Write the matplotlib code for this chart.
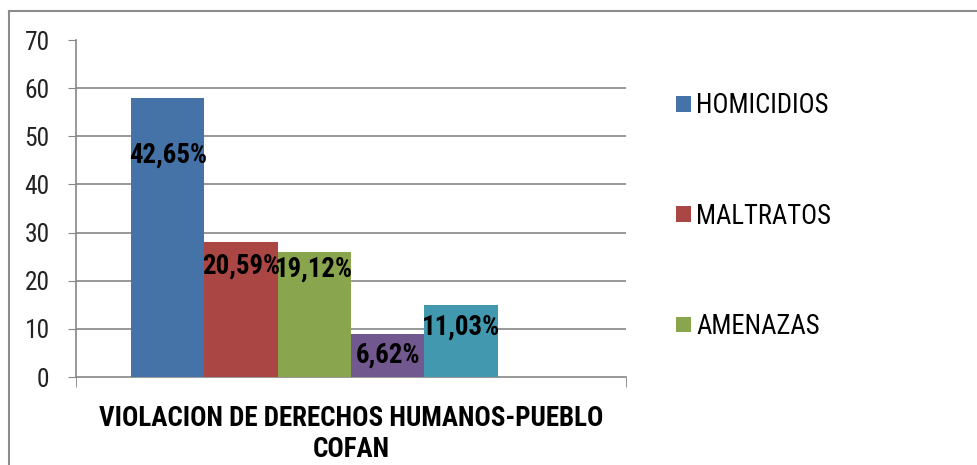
import matplotlib
matplotlib.use('Agg')
import matplotlib.pyplot as plt
from matplotlib import font_manager
from matplotlib.font_manager import FontProperties
from matplotlib.lines import Line2D

# data
category = 'VIOLACION DE DERECHOS HUMANOS-PUEBLO\nCOFAN'
series = ['HOMICIDIOS', 'MALTRATOS', 'AMENAZAS', '', '']
values = [58, 28, 26, 9, 15]
pct_labels = ['42,65%', '20,59%', '19,12%', '6,62%', '11,03%']
label_y = [46.1, 23.0, 22.5, 4.6, 10.4]
colors = ['#4572A7', '#AA4643', '#89A54E', '#71588F', '#4198AF']
yticks = [0, 10, 20, 30, 40, 50, 60, 70]


def pick_font():
    # the original is Calibri, so look for something narrow
    cands = [('Liberation Sans Narrow', 'normal'), ('Roboto Condensed', 'normal'),
             ('Open Sans Condensed', 'normal'), ('Noto Sans', 'condensed'),
             ('Open Sans', 'condensed'), ('DejaVu Sans', 'condensed')]
    by_path = {f.fname: f for f in font_manager.fontManager.ttflist}
    for name, st in cands:
        try:
            path = font_manager.findfont(FontProperties(family=name, stretch=st),
                                         fallback_to_default=False)
        except Exception:
            continue
        f = by_path.get(path)
        if f is None or f.name != name:
            continue
        if st == 'normal' or f.stretch not in ('normal', 500):
            return name, st
    return 'DejaVu Sans', 'normal'


FONT, STRETCH = pick_font()
plt.rcParams['font.family'] = [FONT, 'DejaVu Sans']
plt.rcParams['font.stretch'] = STRETCH

fig = plt.figure(figsize=(9.78, 4.65), dpi=100)
renderer = fig.canvas.get_renderer()


def fit(text, target_px, weight='normal'):
    t = fig.text(0, 0, text, fontsize=10, fontweight=weight, fontstretch=STRETCH)
    w = t.get_window_extent(renderer).width
    t.remove()
    return 10 * target_px / w


tick_fs = fit('70', 25)
pct_fs = fit('42,65%', 78, 'bold')
leg_fs = fit('HOMICIDIOS', 133)
cat_fs = fit(category.split('\n')[0], 502, 'bold')

ax = fig.add_axes([76 / 978, 1 - 377 / 465, 550 / 978, 337 / 465])

# excel layout: 6 slots in the category, gap width 150%
n_slots = 6
width = 1 / (n_slots + 1.5)
start = -n_slots * width / 2
bars = []
for i, (v, c) in enumerate(zip(values, colors)):
    x = start + width * (i + 0.5)
    b = ax.bar(x, v, width=width, color=c, zorder=3, label=series[i])
    bars.append(b)
    ax.text(x, label_y[i], pct_labels[i], ha='center', va='center',
            fontsize=pct_fs, fontweight='bold', fontstretch=STRETCH, zorder=4)

ax.set_xlim(-0.5, 0.5)
ax.set_ylim(0, 70)
ax.set_yticks(yticks)
ax.tick_params(axis='y', labelsize=tick_fs, length=6, color='#868686', pad=13,
               labelcolor='#222222')
for t in yticks[1:-1]:
    ax.axhline(t, color='#868686', lw=1.2, zorder=1)

ax.set_xticks([0])
ax.set_xticklabels([category], fontsize=cat_fs, fontweight='bold',
                   fontstretch=STRETCH, linespacing=1.2)
ax.tick_params(axis='x', length=0, pad=20)
ax.set_xticks([-0.5, 0.5], minor=True)
ax.tick_params(axis='x', which='minor', length=7, color='#868686')

for s in ['top', 'right']:
    ax.spines[s].set_visible(False)
for s in ['left', 'bottom']:
    ax.spines[s].set_color('#868686')
    ax.spines[s].set_linewidth(1.2)

leg_px = leg_fs * 100 / 72
fig.legend(handles=bars[:3], labels=series[:3],
           loc='upper left', bbox_to_anchor=(663 / 978, 1 - 79 / 465),
           frameon=False, fontsize=leg_fs, handlelength=15 / leg_px,
           handleheight=14 / leg_px, handletextpad=5 / leg_px,
           labelspacing=(110 - leg_px) / leg_px, borderpad=0)

# outer chart border (cropped at right and bottom)
fig.add_artist(Line2D([8.5 / 978, 8.5 / 978], [0, 1 - 11.5 / 465],
                      color='#8c8c8c', lw=1.5))
fig.add_artist(Line2D([8.5 / 978, 1], [1 - 11.5 / 465, 1 - 11.5 / 465],
                      color='#8c8c8c', lw=1.5))

fig.savefig('out.png', dpi=100)
